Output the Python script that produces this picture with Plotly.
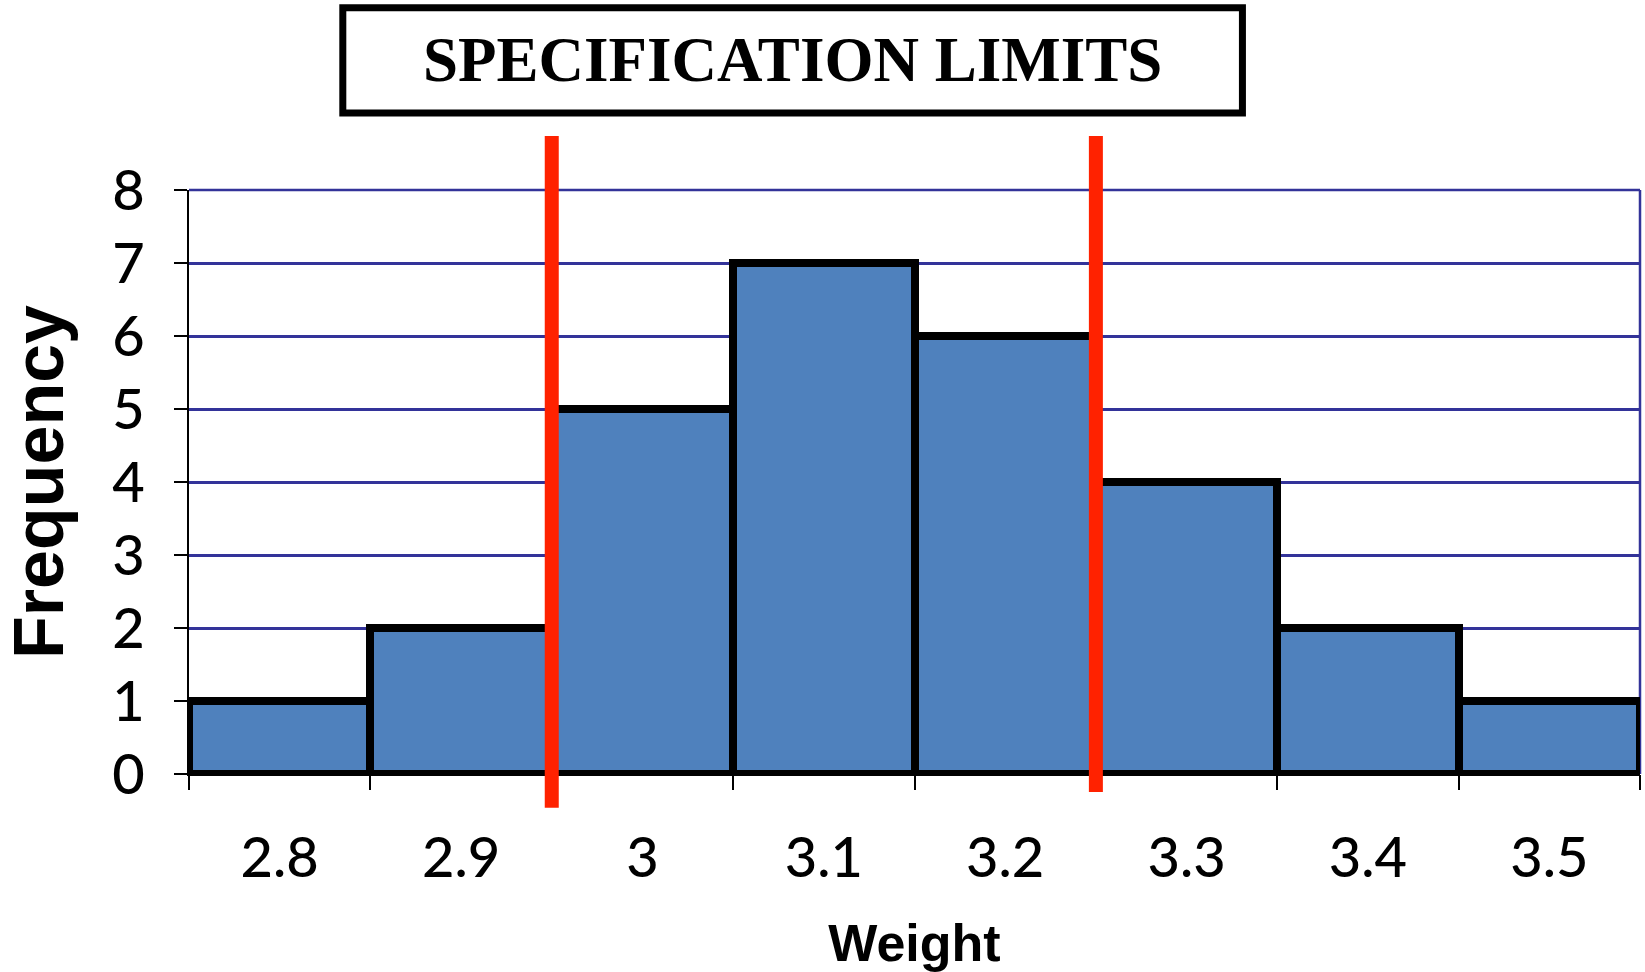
import plotly.graph_objects as go

# Data
weights = [2.8, 2.9, 3.0, 3.1, 3.2, 3.3, 3.4, 3.5]
tick_labels = ["2.8", "2.9", "3", "3.1", "3.2", "3.3", "3.4", "3.5"]
frequency = [1, 2, 5, 7, 6, 4, 2, 1]
bin_width = 0.1
spec_limits = [2.95, 3.25]
title_text = "SPECIFICATION LIMITS"

edges = [round(w - bin_width / 2, 3) for w in weights] + [round(weights[-1] + bin_width / 2, 3)]

GRID = "#333399"
BAR = "#4F81BD"
RED = "#FF2200"
TICKFONT = dict(family="Lato, Liberation Sans, Arial", size=56, color="black", weight=500)

fig = go.Figure()
fig.add_trace(go.Bar(
    x=weights, y=frequency, width=[bin_width] * len(weights),
    marker=dict(color=BAR, line=dict(color="black", width=8)),
    showlegend=False, hoverinfo="x+y",
))
# invisible trace to activate overlay axis for edge ticks
fig.add_trace(go.Scatter(x=[edges[0], edges[-1]], y=[0, 0], xaxis="x2", mode="markers",
                         marker=dict(opacity=0), showlegend=False, hoverinfo="skip"))

fig.update_layout(
    width=1645, height=972,
    margin=dict(l=189, r=5, t=190, b=198),
    paper_bgcolor="white", plot_bgcolor="white",
    bargap=0,
    xaxis=dict(
        range=[edges[0], edges[-1]], tickvals=weights, ticktext=tick_labels,
        ticks="", showgrid=False, zeroline=False, automargin=False,
        showline=True, linecolor="black", linewidth=2,
        tickfont=TICKFONT,
        ticklabelstandoff=34,
        title=dict(text="<b>Weight</b>", font=dict(family="Liberation Sans, Arial", size=52, color="black"),
                   standoff=40),
    ),
    xaxis2=dict(
        overlaying="x", matches="x", anchor="y", side="bottom", automargin=False,
        tickvals=edges, ticks="outside", ticklen=15, tickwidth=2, tickcolor="black",
        showticklabels=False, showgrid=False, zeroline=False, showline=False,
    ),
    yaxis=dict(
        range=[0, 8], dtick=1, ticks="outside", ticklen=13, tickwidth=2, tickcolor="black",
        showline=True, linecolor="black", linewidth=2, automargin=False,
        showgrid=True, gridcolor=GRID, gridwidth=2.5, zeroline=False,
        tickfont=TICKFONT,
        ticklabelstandoff=18,
        title=dict(text="<b>Frequency</b>", font=dict(family="Liberation Sans, Arial", size=70, color="black"),
                   standoff=26),
    ),
)

shapes = [
    # right border and top gridline of plot area
    dict(type="line", xref="paper", yref="paper", x0=1, x1=1, y0=0, y1=1,
         line=dict(color=GRID, width=2.5), layer="below"),
    dict(type="line", xref="paper", yref="paper", x0=0, x1=1, y0=1, y1=1,
         line=dict(color=GRID, width=2.5), layer="below"),
    # title box
    dict(type="rect", xref="paper", yref="paper", x0=0.106, x1=0.726, y0=1.132, y1=1.312,
         line=dict(color="black", width=7), fillcolor="white"),
]
bottoms = [-0.058, -0.031]
for lim, yb in zip(spec_limits, bottoms):
    shapes.append(dict(type="line", xref="x", yref="paper", x0=lim, x1=lim, y0=yb, y1=1.0925,
                       line=dict(color=RED, width=14), layer="above"))
fig.update_layout(shapes=shapes)

fig.add_annotation(
    xref="paper", yref="paper", x=0.416, y=1.2226, showarrow=False,
    text="<b>" + title_text + "</b>",
    font=dict(family="Liberation Serif, Times New Roman, serif", size=63, color="black"),
    xanchor="center", yanchor="middle",
)

fig.write_html("out.html", config={"displayModeBar": False},
               post_script="document.body.style.margin='0';")
